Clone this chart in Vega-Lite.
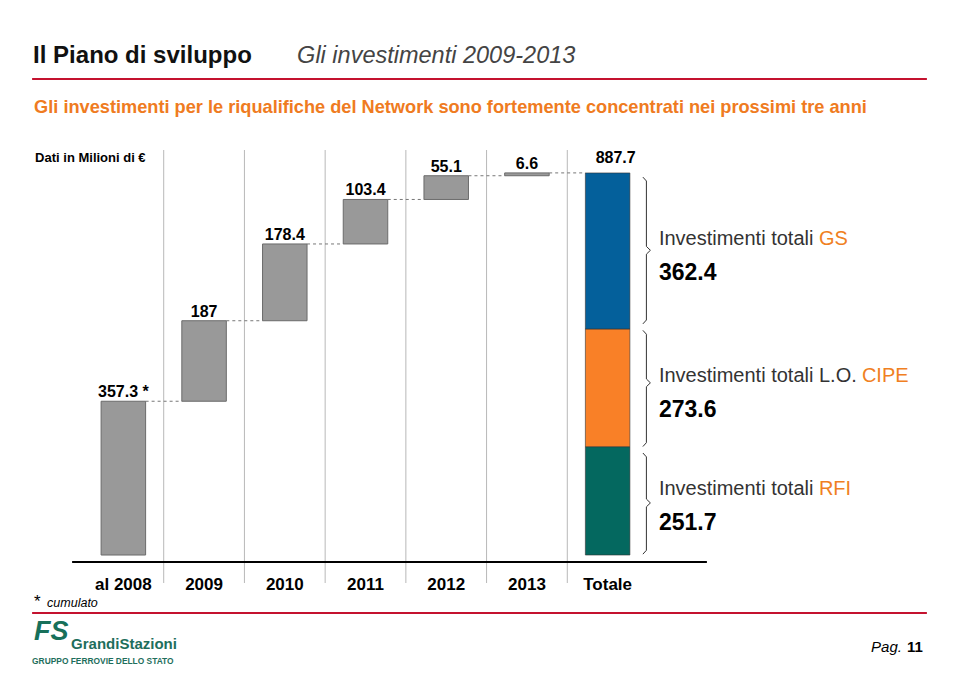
{
  "$schema": "https://vega.github.io/schema/vega-lite/v6.json",
  "width": 565,
  "height": 433,
  "autosize": {"type": "none"},
  "padding": {"left": 83, "top": 150, "right": 311, "bottom": 95},
  "background": "white",
  "config": {"font": "Liberation Sans", "view": {"stroke": null}, "axisY": {"disable": true}},
  "datasets": {
    "steps": [
      {"cat": "al 2008", "start": 0, "end": 357.3, "label": "357.3 *", "next": "2009", "type": "step"},
      {"cat": "2009", "start": 357.3, "end": 544.3, "label": "187", "next": "2010", "type": "step"},
      {"cat": "2010", "start": 544.3, "end": 722.7, "label": "178.4", "next": "2011", "type": "step"},
      {"cat": "2011", "start": 722.7, "end": 826.1, "label": "103.4", "next": "2012", "type": "step"},
      {"cat": "2012", "start": 826.1, "end": 881.2, "label": "55.1", "next": "2013", "type": "step"},
      {"cat": "2013", "start": 881.2, "end": 887.8, "label": "6.6", "next": "Totale", "type": "step"},
      {"cat": "Totale", "start": 0, "end": 887.7, "label": "887.7", "next": null, "type": "total"}
    ],
    "segs": [
      {"cat": "Totale", "seg": "RFI", "start": 0, "end": 251.7, "amount": 251.7, "pre": "Investimenti totali", "hi": "RFI"},
      {"cat": "Totale", "seg": "CIPE", "start": 251.7, "end": 525.3, "amount": 273.6, "pre": "Investimenti totali L.O.", "hi": "CIPE"},
      {"cat": "Totale", "seg": "GS", "start": 525.3, "end": 887.7, "amount": 362.4, "pre": "Investimenti totali", "hi": "GS"}
    ],
    "braces": [
      {"seg": "GS", "part": "tip", "y": 878, "y2": 869},
      {"seg": "GS", "part": "tip", "y": 537, "y2": 546},
      {"seg": "GS", "part": "spine", "y": 869, "y2": 717},
      {"seg": "GS", "part": "spine", "y": 699, "y2": 546},
      {"seg": "GS", "part": "mid", "y": 717, "y2": 708},
      {"seg": "GS", "part": "mid", "y": 699, "y2": 708},
      {"seg": "CIPE", "part": "tip", "y": 522, "y2": 513},
      {"seg": "CIPE", "part": "tip", "y": 252, "y2": 261},
      {"seg": "CIPE", "part": "spine", "y": 513, "y2": 409},
      {"seg": "CIPE", "part": "spine", "y": 391, "y2": 261},
      {"seg": "CIPE", "part": "mid", "y": 409, "y2": 400},
      {"seg": "CIPE", "part": "mid", "y": 391, "y2": 400},
      {"seg": "RFI", "part": "tip", "y": 237, "y2": 228},
      {"seg": "RFI", "part": "tip", "y": 2, "y2": 11},
      {"seg": "RFI", "part": "spine", "y": 228, "y2": 130},
      {"seg": "RFI", "part": "spine", "y": 112, "y2": 11},
      {"seg": "RFI", "part": "mid", "y": 130, "y2": 121},
      {"seg": "RFI", "part": "mid", "y": 112, "y2": 121}
    ],
    "notes": [
      {"id": "title", "text": "Il Piano di sviluppo"},
      {"id": "title2", "text": "Gli investimenti 2009-2013"},
      {"id": "sub", "text": "Gli investimenti per le riqualifiche del Network sono fortemente concentrati nei prossimi tre anni"},
      {"id": "unit", "text": "Dati in Milioni di €"},
      {"id": "star", "text": "*"},
      {"id": "note", "text": "cumulato"},
      {"id": "logo", "text": "FS"},
      {"id": "brand", "text": "GrandiStazioni"},
      {"id": "group", "text": "GRUPPO FERROVIE DELLO STATO"},
      {"id": "pag", "text": "Pag."},
      {"id": "num", "text": "11"}
    ]
  },
  "layer": [
    {
      "data": {"name": "steps"},
      "transform": [{"filter": "datum.cat != 'al 2008'"}],
      "mark": {"type": "rule", "color": "#b8b8b8", "strokeWidth": 1, "xOffset": -18.1},
      "encoding": {
        "x": {
          "field": "cat", "type": "nominal", "bandPosition": 0,
          "scale": {"domain": ["al 2008", "2009", "2010", "2011", "2012", "2013", "Totale"], "paddingInner": 0.4486, "paddingOuter": 0.2243},
          "axis": {"title": null, "domain": false, "ticks": false, "tickSize": 0, "grid": false, "labelAngle": 0, "labelFontSize": 17, "labelFontWeight": "bold", "labelColor": "#000000", "labelPadding": 1, "labelBaseline": "middle"}
        }
      }
    },
    {
      "data": {"name": "notes"},
      "transform": [{"filter": "datum.id == 'title'"}],
      "mark": {"type": "rule", "color": "#000000", "strokeWidth": 2, "xOffset": -29, "x2Offset": 77},
      "encoding": {
        "x": {"datum": "al 2008", "bandPosition": 0},
        "x2": {"datum": "Totale", "bandPosition": 1},
        "y": {"datum": -16.3, "type": "quantitative", "scale": {"domain": [-65, 941], "nice": false, "zero": false}, "axis": null}
      }
    },
    {
      "data": {"name": "notes"},
      "transform": [{"filter": "datum.id == 'title'"}],
      "mark": {"type": "rule", "color": "#c4122f", "strokeWidth": 2, "xOffset": -69, "x2Offset": 297},
      "encoding": {
        "x": {"datum": "al 2008", "bandPosition": 0},
        "x2": {"datum": "Totale", "bandPosition": 1},
        "y": {"datum": 1105.9, "type": "quantitative", "axis": null}
      }
    },
    {
      "data": {"name": "notes"},
      "transform": [{"filter": "datum.id == 'title'"}],
      "mark": {"type": "rule", "color": "#c4122f", "strokeWidth": 2, "xOffset": -69, "x2Offset": 297},
      "encoding": {
        "x": {"datum": "al 2008", "bandPosition": 0},
        "x2": {"datum": "Totale", "bandPosition": 1},
        "y": {"datum": -134.8, "type": "quantitative", "axis": null}
      }
    },
    {
      "data": {"name": "steps"},
      "transform": [{"filter": "datum.next != null"}],
      "mark": {"type": "rule", "color": "#777777", "strokeWidth": 1, "strokeDash": [3, 3]},
      "encoding": {
        "x": {"field": "cat", "type": "nominal", "bandPosition": 1},
        "x2": {"field": "next", "bandPosition": 0},
        "y": {"field": "end", "type": "quantitative", "axis": null}
      }
    },
    {
      "data": {"name": "steps"},
      "transform": [{"filter": "datum.type == 'step'"}],
      "mark": {"type": "bar", "fill": "#999999", "stroke": "#6b6b6b", "strokeWidth": 1, "width": {"band": 1}},
      "encoding": {
        "x": {"field": "cat", "type": "nominal"},
        "y": {"field": "start", "type": "quantitative", "axis": null},
        "y2": {"field": "end"}
      }
    },
    {
      "data": {"name": "segs"},
      "mark": {"type": "bar", "stroke": "#333333", "strokeWidth": 0.6, "width": {"band": 1}},
      "encoding": {
        "x": {"field": "cat", "type": "nominal"},
        "y": {"field": "start", "type": "quantitative", "axis": null},
        "y2": {"field": "end"},
        "color": {"field": "seg", "type": "nominal", "scale": {"domain": ["RFI", "CIPE", "GS"], "range": ["#04685f", "#f98027", "#04609b"]}, "legend": null}
      }
    },
    {
      "data": {"name": "steps"},
      "transform": [{"filter": "datum.type == 'step'"}],
      "mark": {"type": "text", "fontSize": 16, "fontWeight": "bold", "color": "#000000", "dy": -9, "baseline": "middle"},
      "encoding": {
        "x": {"field": "cat", "type": "nominal"},
        "y": {"field": "end", "type": "quantitative", "axis": null},
        "text": {"field": "label"}
      }
    },
    {
      "data": {"name": "steps"},
      "transform": [{"filter": "datum.type == 'total'"}],
      "mark": {"type": "text", "fontSize": 16, "fontWeight": "bold", "color": "#000000", "dy": -15, "dx": 8, "baseline": "middle"},
      "encoding": {
        "x": {"field": "cat", "type": "nominal"},
        "y": {"field": "end", "type": "quantitative", "axis": null},
        "text": {"field": "label"}
      }
    },
    {
      "data": {"name": "braces"},
      "transform": [{"filter": "datum.part == 'tip'"}],
      "mark": {"type": "rule", "color": "#333333", "strokeWidth": 1, "xOffset": 13, "x2Offset": 16.5},
      "encoding": {
        "x": {"datum": "Totale", "bandPosition": 1},
        "x2": {"datum": "Totale", "bandPosition": 1},
        "y": {"field": "y", "type": "quantitative", "axis": null},
        "y2": {"field": "y2"}
      }
    },
    {
      "data": {"name": "braces"},
      "transform": [{"filter": "datum.part == 'spine'"}],
      "mark": {"type": "rule", "color": "#333333", "strokeWidth": 1, "xOffset": 16.5},
      "encoding": {
        "x": {"datum": "Totale", "bandPosition": 1},
        "y": {"field": "y", "type": "quantitative", "axis": null},
        "y2": {"field": "y2"}
      }
    },
    {
      "data": {"name": "braces"},
      "transform": [{"filter": "datum.part == 'mid'"}],
      "mark": {"type": "rule", "color": "#333333", "strokeWidth": 1, "xOffset": 16.5, "x2Offset": 20.5},
      "encoding": {
        "x": {"datum": "Totale", "bandPosition": 1},
        "x2": {"datum": "Totale", "bandPosition": 1},
        "y": {"field": "y", "type": "quantitative", "axis": null},
        "y2": {"field": "y2"}
      }
    },
    {
      "data": {"name": "segs"},
      "transform": [
        {"fold": ["start", "end"], "as": ["bound", "v"]},
        {"aggregate": [{"op": "mean", "field": "v", "as": "mid"}], "groupby": ["cat", "seg", "pre", "hi", "amount"]}
      ],
      "layer": [
        {
          "mark": {"type": "text", "fontSize": 20, "color": "#333333", "align": "left", "baseline": "middle", "dx": 29, "dy": -12},
          "encoding": {
            "x": {"field": "cat", "type": "nominal", "bandPosition": 1},
            "y": {"field": "mid", "type": "quantitative", "axis": null},
            "text": {"field": "pre"}
          }
        },
        {
          "transform": [{"filter": "datum.seg != 'CIPE'"}],
          "mark": {"type": "text", "fontSize": 20, "color": "#f07f22", "align": "left", "baseline": "middle", "dx": 189, "dy": -12},
          "encoding": {
            "x": {"field": "cat", "type": "nominal", "bandPosition": 1},
            "y": {"field": "mid", "type": "quantitative", "axis": null},
            "text": {"field": "hi"}
          }
        },
        {
          "transform": [{"filter": "datum.seg == 'CIPE'"}],
          "mark": {"type": "text", "fontSize": 20, "color": "#f07f22", "align": "left", "baseline": "middle", "dx": 232, "dy": -12},
          "encoding": {
            "x": {"field": "cat", "type": "nominal", "bandPosition": 1},
            "y": {"field": "mid", "type": "quantitative", "axis": null},
            "text": {"field": "hi"}
          }
        },
        {
          "mark": {"type": "text", "fontSize": 23, "fontWeight": "bold", "color": "#000000", "align": "left", "baseline": "middle", "dx": 29, "dy": 22},
          "encoding": {
            "x": {"field": "cat", "type": "nominal", "bandPosition": 1},
            "y": {"field": "mid", "type": "quantitative", "axis": null},
            "text": {"field": "amount", "type": "quantitative", "format": ".1f"}
          }
        }
      ]
    },
    {
      "data": {"name": "notes"},
      "transform": [{"filter": "datum.id == 'title'"}],
      "mark": {"type": "text", "fontSize": 24, "fontWeight": "bold", "color": "#111111", "align": "left", "baseline": "middle", "dx": -68},
      "encoding": {"x": {"datum": "al 2008", "bandPosition": 0}, "y": {"datum": 1159.3, "type": "quantitative", "axis": null}, "text": {"field": "text"}}
    },
    {
      "data": {"name": "notes"},
      "transform": [{"filter": "datum.id == 'title2'"}],
      "mark": {"type": "text", "fontSize": 23.5, "fontStyle": "italic", "color": "#444444", "align": "left", "baseline": "middle", "dx": 196},
      "encoding": {"x": {"datum": "al 2008", "bandPosition": 0}, "y": {"datum": 1159.3, "type": "quantitative", "axis": null}, "text": {"field": "text"}}
    },
    {
      "data": {"name": "notes"},
      "transform": [{"filter": "datum.id == 'sub'"}],
      "mark": {"type": "text", "fontSize": 18.2, "fontWeight": "bold", "color": "#ef7b21", "align": "left", "baseline": "middle", "dx": -67},
      "encoding": {"x": {"datum": "al 2008", "bandPosition": 0}, "y": {"datum": 1038.5, "type": "quantitative", "axis": null}, "text": {"field": "text"}}
    },
    {
      "data": {"name": "notes"},
      "transform": [{"filter": "datum.id == 'unit'"}],
      "mark": {"type": "text", "fontSize": 13, "fontWeight": "bold", "color": "#000000", "align": "left", "baseline": "middle", "dx": -66},
      "encoding": {"x": {"datum": "al 2008", "bandPosition": 0}, "y": {"datum": 922.3, "type": "quantitative", "axis": null}, "text": {"field": "text"}}
    },
    {
      "data": {"name": "notes"},
      "transform": [{"filter": "datum.id == 'star'"}],
      "mark": {"type": "text", "fontSize": 17, "color": "#000000", "align": "left", "baseline": "middle", "dx": -67},
      "encoding": {"x": {"datum": "al 2008", "bandPosition": 0}, "y": {"datum": -109, "type": "quantitative", "axis": null}, "text": {"field": "text"}}
    },
    {
      "data": {"name": "notes"},
      "transform": [{"filter": "datum.id == 'note'"}],
      "mark": {"type": "text", "fontSize": 12.5, "fontStyle": "italic", "color": "#000000", "align": "left", "baseline": "middle", "dx": -54},
      "encoding": {"x": {"datum": "al 2008", "bandPosition": 0}, "y": {"datum": -111.5, "type": "quantitative", "axis": null}, "text": {"field": "text"}}
    },
    {
      "data": {"name": "notes"},
      "transform": [{"filter": "datum.id == 'logo'"}],
      "mark": {"type": "text", "fontSize": 27, "fontWeight": "bold", "fontStyle": "italic", "color": "#17705a", "align": "left", "baseline": "middle", "dx": -67},
      "encoding": {"x": {"datum": "al 2008", "bandPosition": 0}, "y": {"datum": -180, "type": "quantitative", "axis": null}, "text": {"field": "text"}}
    },
    {
      "data": {"name": "notes"},
      "transform": [{"filter": "datum.id == 'brand'"}],
      "mark": {"type": "text", "fontSize": 15, "fontWeight": "bold", "color": "#1e6e5c", "align": "left", "baseline": "middle", "dx": -30},
      "encoding": {"x": {"datum": "al 2008", "bandPosition": 0}, "y": {"datum": -206.8, "type": "quantitative", "axis": null}, "text": {"field": "text"}}
    },
    {
      "data": {"name": "notes"},
      "transform": [{"filter": "datum.id == 'group'"}],
      "mark": {"type": "text", "fontSize": 8.4, "fontWeight": "bold", "color": "#1e6e5c", "align": "left", "baseline": "middle", "dx": -69},
      "encoding": {"x": {"datum": "al 2008", "bandPosition": 0}, "y": {"datum": -246.3, "type": "quantitative", "axis": null}, "text": {"field": "text"}}
    },
    {
      "data": {"name": "notes"},
      "transform": [{"filter": "datum.id == 'pag'"}],
      "mark": {"type": "text", "fontSize": 15, "fontStyle": "italic", "color": "#000000", "align": "right", "baseline": "middle", "dx": 272},
      "encoding": {"x": {"datum": "Totale", "bandPosition": 1}, "y": {"datum": -213.8, "type": "quantitative", "axis": null}, "text": {"field": "text"}}
    },
    {
      "data": {"name": "notes"},
      "transform": [{"filter": "datum.id == 'num'"}],
      "mark": {"type": "text", "fontSize": 15, "fontWeight": "bold", "color": "#000000", "align": "right", "baseline": "middle", "dx": 293},
      "encoding": {"x": {"datum": "Totale", "bandPosition": 1}, "y": {"datum": -213.8, "type": "quantitative", "axis": null}, "text": {"field": "text"}}
    }
  ]
}
